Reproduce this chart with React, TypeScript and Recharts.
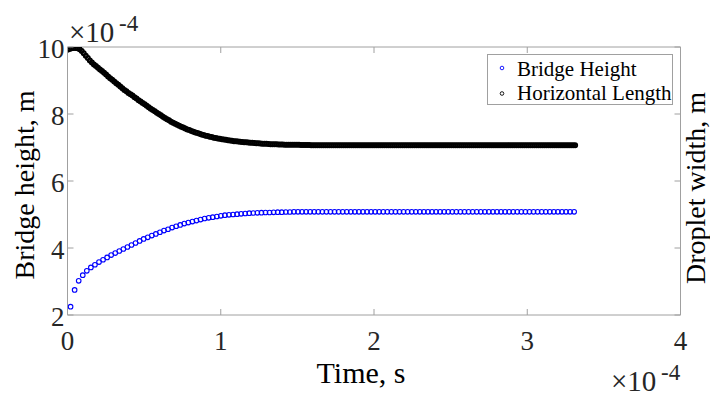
import React from "react";
import { ScatterChart, Scatter, XAxis, YAxis } from "recharts";

// values are in units of 1e-4 (time and length)
const xTicks = [0, 1, 2, 3, 4];
const yTicks = [2, 4, 6, 8, 10];

const bridgeStart = 0.02;
const bridgeStep = 0.0265;
const bridgeHeight = [
  2.25, 2.75, 3.02, 3.19, 3.32, 3.42, 3.5, 3.58, 3.65, 3.72,
  3.79, 3.85, 3.91, 3.97, 4.03, 4.09, 4.15, 4.21, 4.27, 4.32,
  4.37, 4.42, 4.47, 4.52, 4.56, 4.61, 4.65, 4.69, 4.73, 4.76,
  4.79, 4.82, 4.85, 4.88, 4.9, 4.92, 4.94, 4.96, 4.98, 4.99,
  5.0, 5.01, 5.02, 5.03, 5.04, 5.045, 5.05, 5.055, 5.06, 5.06,
  5.065, 5.07, 5.07, 5.075, 5.075, 5.08, 5.08, 5.08, 5.08, 5.08,
  5.08, 5.08, 5.08, 5.08, 5.08, 5.08, 5.08, 5.08, 5.08, 5.08,
  5.08, 5.08, 5.08, 5.08, 5.08, 5.08, 5.08, 5.08, 5.08, 5.08,
  5.08, 5.08, 5.08, 5.08, 5.08, 5.08, 5.08, 5.08, 5.08, 5.08,
  5.08, 5.08, 5.08, 5.08, 5.08, 5.08, 5.08, 5.08, 5.08, 5.08,
  5.08, 5.08, 5.08, 5.08, 5.08, 5.08, 5.08, 5.08, 5.08, 5.08,
  5.08, 5.08, 5.08, 5.08, 5.08, 5.08, 5.08, 5.08, 5.08, 5.08,
  5.08, 5.08, 5.08, 5.08, 5.08,
];

const widthStep = 0.01325;
const dropletWidth = [
  9.92, 9.94, 9.96, 9.97, 9.97, 9.96, 9.93, 9.88, 9.81, 9.74,
  9.67, 9.6, 9.54, 9.48, 9.43, 9.38, 9.33, 9.28, 9.23, 9.18,
  9.12, 9.07, 9.02, 8.97, 8.92, 8.87, 8.82, 8.77, 8.72, 8.68,
  8.63, 8.59, 8.55, 8.5, 8.46, 8.41, 8.37, 8.33, 8.29, 8.25,
  8.2, 8.16, 8.12, 8.08, 8.04, 8.0, 7.96, 7.92, 7.88, 7.84,
  7.81, 7.77, 7.74, 7.71, 7.68, 7.65, 7.62, 7.6, 7.57, 7.54,
  7.52, 7.49, 7.47, 7.45, 7.43, 7.41, 7.39, 7.37, 7.35, 7.34,
  7.32, 7.31, 7.29, 7.28, 7.27, 7.26, 7.25, 7.24, 7.23, 7.22,
  7.21, 7.2, 7.19, 7.185, 7.18, 7.17, 7.165, 7.16, 7.155, 7.15,
  7.145, 7.14, 7.135, 7.13, 7.125, 7.12, 7.115, 7.11, 7.11, 7.105,
  7.1, 7.1, 7.095, 7.095, 7.09, 7.09, 7.09, 7.085, 7.085, 7.085,
  7.08, 7.08, 7.08, 7.08, 7.08, 7.075, 7.075, 7.075, 7.075, 7.075,
  7.07, 7.07, 7.07, 7.07, 7.07, 7.07, 7.07, 7.07, 7.07, 7.07,
  7.07, 7.07, 7.07, 7.07, 7.07, 7.07, 7.07, 7.07, 7.07, 7.07,
  7.07, 7.07, 7.07, 7.07, 7.07, 7.07, 7.07, 7.07, 7.07, 7.07,
  7.07, 7.07, 7.07, 7.07, 7.07, 7.07, 7.07, 7.07, 7.07, 7.07,
  7.07, 7.07, 7.07, 7.07, 7.07, 7.07, 7.07, 7.07, 7.07, 7.07,
  7.07, 7.07, 7.07, 7.07, 7.07, 7.07, 7.07, 7.07, 7.07, 7.07,
  7.07, 7.07, 7.07, 7.07, 7.07, 7.07, 7.07, 7.07, 7.07, 7.07,
  7.07, 7.07, 7.07, 7.07, 7.07, 7.07, 7.07, 7.07, 7.07, 7.07,
  7.07, 7.07, 7.07, 7.07, 7.07, 7.07, 7.07, 7.07, 7.07, 7.07,
  7.07, 7.07, 7.07, 7.07, 7.07, 7.07, 7.07, 7.07, 7.07, 7.07,
  7.07, 7.07, 7.07, 7.07, 7.07, 7.07, 7.07, 7.07, 7.07, 7.07,
  7.07, 7.07, 7.07, 7.07, 7.07, 7.07, 7.07, 7.07, 7.07, 7.07,
  7.07, 7.07, 7.07, 7.07, 7.07, 7.07, 7.07, 7.07, 7.07, 7.07,
  7.07,
];

const bridgeData = bridgeHeight.map((v, i) => ({ t: bridgeStart + i * bridgeStep, v }));
const widthData = dropletWidth.map((v, i) => ({ t: i * widthStep, v }));

const FONT = "'Liberation Serif', 'Times New Roman', serif";
const AXIS = "#a0a0a0";
const TEXT = "#262626";
const TICK_FS = 27;

const BottomTick = (p: any) => (
  <g>
    <line x1={p.x} y1={p.y} x2={p.x} y2={p.y - 6} stroke={AXIS} />
    <text x={p.x} y={p.y + 35} textAnchor="middle" fontFamily={FONT} fontSize={TICK_FS} fill={TEXT}>
      {p.payload.value}
    </text>
  </g>
);

const TopTick = (p: any) => <line x1={p.x} y1={p.y} x2={p.x} y2={p.y + 6} stroke={AXIS} />;

const LeftTick = (p: any) => (
  <g>
    <line x1={p.x} y1={p.y} x2={p.x + 6} y2={p.y} stroke={AXIS} />
    <text x={p.x - 3} y={p.y + 11} textAnchor="end" fontFamily={FONT} fontSize={TICK_FS} fill={TEXT}>
      {p.payload.value}
    </text>
  </g>
);

const RightTick = (p: any) => <line x1={p.x} y1={p.y} x2={p.x - 6} y2={p.y} stroke={AXIS} />;

const blueDot = (p: any) => (
  <circle cx={p.cx} cy={p.cy} r={2.3} fill="none" stroke="#0000ff" strokeWidth={1.1} />
);
const blackDot = (p: any) => (
  <circle cx={p.cx} cy={p.cy} r={2} fill="none" stroke="#000000" strokeWidth={2} />
);

export default function App() {
  return (
    <div style={{ position: "absolute", left: 0, top: 0, width: 710, height: 399, background: "#fff" }}>
      <ScatterChart width={710} height={399} margin={{ top: 46, right: 28.5, bottom: 83, left: 66.5 }}>
        <XAxis
          xAxisId="b"
          type="number"
          dataKey="t"
          domain={[0, 4]}
          ticks={xTicks}
          interval={0}
          allowDataOverflow
          height={1}
          tickSize={0}
          tickMargin={0}
          tickLine={false}
          tick={<BottomTick />}
          stroke={AXIS}
        />
        <XAxis
          xAxisId="top"
          orientation="top"
          type="number"
          dataKey="t"
          domain={[0, 4]}
          ticks={xTicks}
          interval={0}
          allowDataOverflow
          height={1}
          tickSize={0}
          tickMargin={0}
          tickLine={false}
          tick={<TopTick />}
          stroke={AXIS}
        />
        <YAxis
          yAxisId="l"
          type="number"
          dataKey="v"
          domain={[2, 10]}
          ticks={yTicks}
          interval={0}
          allowDataOverflow
          width={1}
          tickSize={0}
          tickMargin={0}
          tickLine={false}
          tick={<LeftTick />}
          stroke={AXIS}
        />
        <YAxis
          yAxisId="r"
          orientation="right"
          type="number"
          dataKey="v"
          domain={[2, 10]}
          ticks={yTicks}
          interval={0}
          allowDataOverflow
          width={1}
          tickSize={0}
          tickMargin={0}
          tickLine={false}
          tick={<RightTick />}
          stroke={AXIS}
        />
        <Scatter xAxisId="b" yAxisId="l" data={bridgeData} shape={blueDot} isAnimationActive={false} />
        <Scatter xAxisId="b" yAxisId="l" data={widthData} shape={blackDot} isAnimationActive={false} />
      </ScatterChart>
      <svg
        width={710}
        height={399}
        style={{ position: "absolute", left: 0, top: 0, pointerEvents: "none" }}
        fontFamily={FONT}
        fill={TEXT}
      >
        <text x={69} y={42} fontSize={29}>
          ×10
        </text>
        <text x={119} y={31} fontSize={23}>
          -4
        </text>
        <text x={611} y={391} fontSize={29}>
          ×10
        </text>
        <text x={661} y={380} fontSize={23}>
          -4
        </text>
        <text x={361} y={383} fontSize={30} textAnchor="middle" fill="#000">
          Time, s
        </text>
        <text x={34} y={185} fontSize={28} textAnchor="middle" fill="#000" transform="rotate(-90, 34, 185)">
          Bridge height, m
        </text>
        <text x={705} y={188} fontSize={28} textAnchor="middle" fill="#000" transform="rotate(-90, 705, 188)">
          Droplet width, m
        </text>
        <rect x={487.5} y={54.5} width={185} height={50} fill="#fff" stroke={AXIS} />
        <circle cx={502} cy={68} r={1.8} fill="none" stroke="#0000ff" strokeWidth={0.9} />
        <text x={517} y={76} fontSize={21} fill="#000">
          Bridge Height
        </text>
        <circle cx={502} cy={93.5} r={1.8} fill="none" stroke="#000" strokeWidth={0.9} />
        <text x={517} y={100} fontSize={21} fill="#000">
          Horizontal Length
        </text>
      </svg>
    </div>
  );
}
